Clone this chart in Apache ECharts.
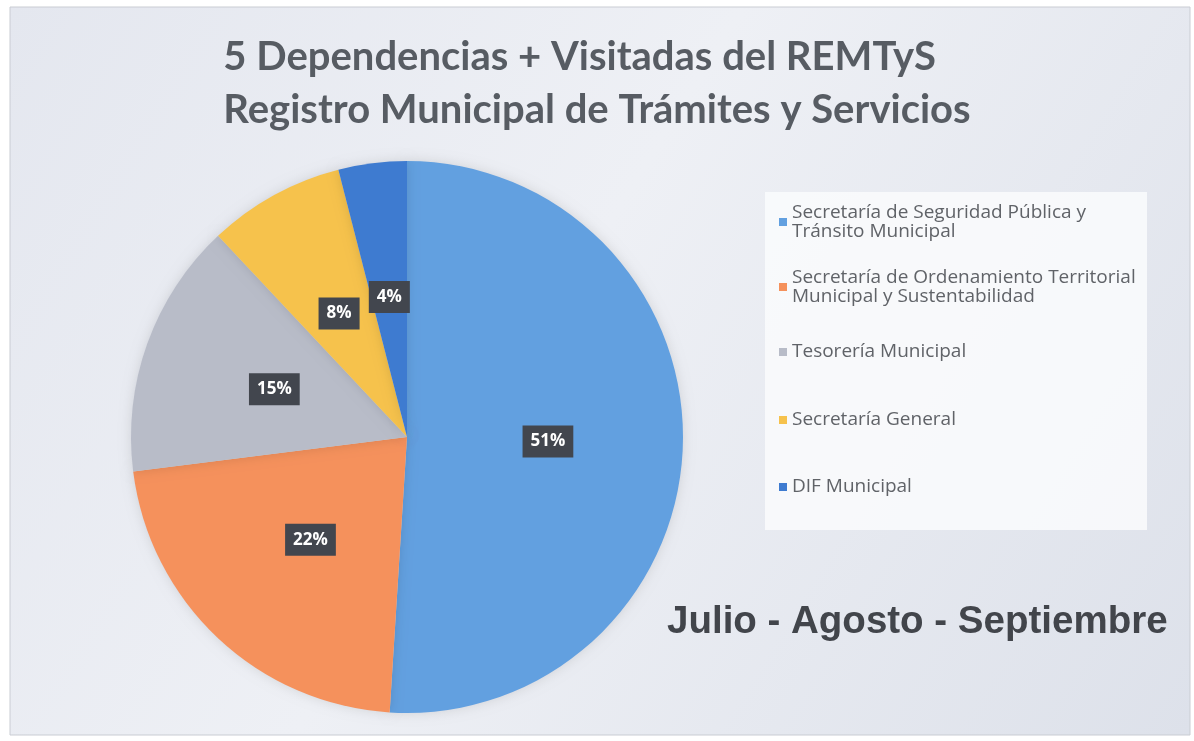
<!DOCTYPE html>
<html>
<head>
<meta charset="utf-8">
<script src="https://cdn.jsdelivr.net/npm/echarts@6/dist/echarts.min.js"></script>
<style>
  html, body { margin: 0; padding: 0; background: #fff; }
  #main { width: 1194px; height: 741px; }
</style>
</head>
<body>
<div id="main"></div>
<script>
// datos del REMTyS (julio - septiembre)
var dependencias = [
  'Secretaría de Seguridad Pública y\nTránsito Municipal',
  'Secretaría de Ordenamiento Territorial\nMunicipal y Sustentabilidad',
  'Tesorería Municipal',
  'Secretaría General',
  'DIF Municipal'
];
var porcentajes = [51, 22, 15, 8, 4];
var colores = ['#62a0e0', '#f5915c', '#b8bcc8', '#f6c24c', '#3e7bd0'];

var chart = echarts.init(document.getElementById('main'));

// posicion vertical del cuadrito de cada leyenda
var legendY = [222, 287, 352, 420, 487];
var LH = 19;
var legends = dependencias.map(function (name, i) {
  var twoLines = name.indexOf('\n') >= 0;
  return {
    orient: 'vertical',
    left: 779,
    top: twoLines ? legendY[i] - LH * 1.5 : legendY[i] - LH / 2,
    padding: 0,
    itemWidth: 8,
    itemHeight: 8,
    icon: 'rect',
    selectedMode: false,
    data: [name],
    textStyle: {
      fontFamily: 'Open Sans',
      fontSize: 19,
      color: '#606368',
      lineHeight: LH,
      padding: twoLines ? [LH, 0, 0, 0] : 0
    }
  };
});

var option = {
  backgroundColor: '#ffffff',
  animation: false,
  graphic: [
    {
      type: 'rect',
      z: -10,
      shape: { x: 10, y: 7, width: 1180, height: 728 },
      style: {
        fill: new echarts.graphic.LinearGradient(0, 0, 1, 1, [
          { offset: 0, color: '#e4e7ef' },
          { offset: 0.45, color: '#eef0f5' },
          { offset: 1, color: '#dde1ea' }
        ]),
        stroke: '#c9ccd3',
        lineWidth: 1
      }
    },
    {
      type: 'rect',
      z: -5,
      shape: { x: 765, y: 192, width: 382, height: 338 },
      style: { fill: 'rgba(250,251,253,0.85)' }
    },
    {
      type: 'text',
      left: 'center',
      top: 31,
      style: {
        text: '5 Dependencias + Visitadas del REMTyS\nRegistro Municipal de Trámites y Servicios',
        fontFamily: 'Lato',
        fontWeight: 'bold',
        fontSize: 40,
        lineHeight: 53,
        align: 'center',
        fill: '#575c63'
      }
    },
    {
      type: 'text',
      left: 667,
      top: 603,
      style: {
        text: 'Julio - Agosto - Septiembre',
        fontFamily: 'Liberation Sans',
        fontWeight: 'bold',
        fontSize: 38.5,
        fill: '#42454b'
      }
    }
  ],
  legend: legends,
  series: [
    {
      type: 'pie',
      center: [407, 437],
      radius: 276,
      startAngle: 90,
      clockwise: true,
      color: colores,
      itemStyle: {
        shadowBlur: 12,
        shadowColor: 'rgba(0,0,0,0.12)'
      },
      label: {
        position: 'inside',
        formatter: '{c}%',
        fontFamily: 'Open Sans',
        fontWeight: 'bold',
        fontSize: 17,
        color: '#ffffff',
        backgroundColor: '#42464e',
        padding: [8, 8, 7, 8]
      },
      labelLine: { show: false },
      emphasis: { disabled: true },
      data: dependencias.map(function (name, i) {
        return { name: name, value: porcentajes[i] };
      })
    }
  ]
};

chart.setOption(option);
</script>
</body>
</html>
